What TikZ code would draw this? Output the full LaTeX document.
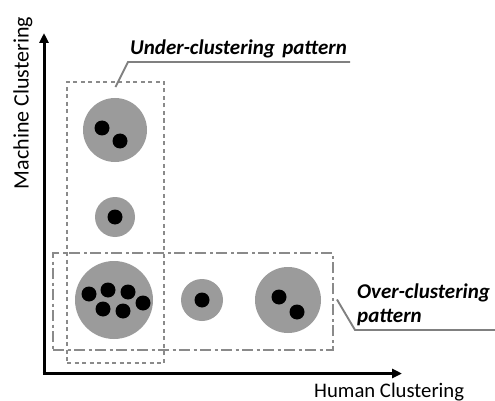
\documentclass[tikz,border=0pt]{standalone}
\usepackage{fontspec}
\setmainfont{Carlito}
\usetikzlibrary{arrows.meta}
\definecolor{clgray}{HTML}{9B9B9B}
\definecolor{rectgray}{HTML}{8A8A8A}
\definecolor{leadgray}{HTML}{808080}
\begin{document}
\begin{tikzpicture}[x=1pt,y=-1pt,
  cluster/.style={circle,fill=clgray,inner sep=0pt,minimum size=#1},
  item/.style={circle,fill=black,inner sep=0pt,minimum size=15pt},
  axis/.style={line width=3pt,-{Triangle[length=10pt,width=9pt]}},
  underbox/.style={draw=rectgray,line width=1.9pt,dash pattern=on 4pt off 3.5pt,inner sep=0pt},
  overbox/.style={draw=rectgray,line width=1.9pt,dash pattern=on 11pt off 3.5pt on 3pt off 3.5pt,inner sep=0pt},
  leader/.style={draw=leadgray,line width=1.9pt},
  lbl/.style={font=\fontsize{21}{24}\selectfont\bfseries\itshape,inner sep=0pt},
  axlbl/.style={font=\fontsize{20.7}{24}\selectfont,inner sep=0pt}]
\useasboundingbox (0,0) rectangle (495,401);

% axes
\coordinate (origin) at (44,373.5);
\coordinate (ytip) at (44,33);
\coordinate (xtip) at (402,373.5);
\draw[axis] (origin) -- (ytip);
\draw[axis] ([xshift=-1.5pt]origin) -- (xtip);
\node[axlbl,rotate=90,font=\fontsize{22}{24}\selectfont] (ylab) at (23,103) {Machine Clustering};
\node[axlbl,anchor=base west] (xlab) at (314,397) {Human Clustering};

% boxes
\node[underbox,minimum width=97pt,minimum height=281pt] (under) at (115.5,222.5) {};
\node[overbox,minimum width=280pt,minimum height=97pt] (over) at (193,301.5) {};

% clusters
\node[cluster=64pt] (c1) at (115,130) {};
\node[item] (c1a) at (102,128) {};
\node[item] (c1b) at (120,141) {};

\node[cluster=40pt] (c2) at (115,217) {};
\node[item] (c2a) at (115,217) {};

\node[cluster=78pt] (c3) at (114,300) {};
\node[item] (c3a) at (89,294) {};
\node[item] (c3b) at (108,290) {};
\node[item] (c3c) at (128,292) {};
\node[item] (c3d) at (143,303) {};
\node[item] (c3e) at (103,309) {};
\node[item] (c3f) at (123,311) {};

\node[cluster=42pt] (c4) at (202,300) {};
\node[item] (c4a) at (202,300) {};

\node[cluster=66pt] (c5) at (288,300) {};
\node[item] (c5a) at (279,297) {};
\node[item] (c5b) at (297,312) {};

% labels and leaders
\node[lbl,anchor=base west] (ulab) at (130,55) {Under-clustering\hspace{0.35em}pattern};
\coordinate (ubend) at (128,62);
\coordinate (uend) at (350,62);
\draw[leader] ([yshift=-6pt]under.north) -- (ubend) -- (uend);

\node[lbl,anchor=base west] (olab1) at (357,298) {Over-clustering};
\node[lbl,anchor=base west] (olab2) at (357,322) {pattern};
\coordinate (obend) at (355,330);
\coordinate (oend) at (495,330);
\draw[leader] ([xshift=3pt,yshift=2pt]over.east) -- (obend) -- (oend);
\end{tikzpicture}
\end{document}
